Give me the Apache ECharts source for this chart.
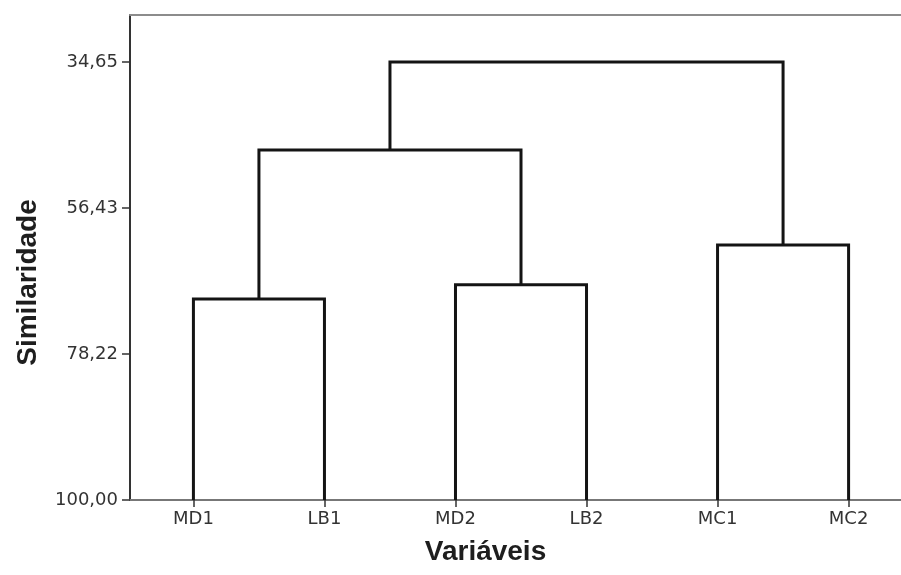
<!DOCTYPE html>
<html>
<head>
<meta charset="utf-8">
<title>Dendrograma</title>
<script src="https://cdn.jsdelivr.net/npm/echarts@6/dist/echarts.min.js"></script>
<style>
  html, body { margin: 0; padding: 0; background: #fff; }
  #chart { width: 901px; height: 575px; }
</style>
</head>
<body>
<div id="chart"></div>
<script>
// Leaves of the dendrogram, in plotting order
const leaves = ['MD1', 'LB1', 'MD2', 'LB2', 'MC1', 'MC2'];

// Agglomeration steps: each joins two nodes (leaf names or earlier step indices)
const mergeLeft  = ['MD1', 'MD2', 'MC1', 0, 3];
const mergeRight = ['LB1', 'LB2', 'MC2', 1, 2];
const mergeLevel = [70.0, 67.9, 61.95, 47.8, 34.65];

// Similarity tick values and their printed labels
const tickValues = [34.65, 56.43, 78.22, 100.0];
const tickLabels = ['34,65', '56,43', '78,22', '100,00'];

// Resolve a node reference into its x position and similarity level
const nodes = [];
function nodeOf(ref) {
  if (typeof ref === 'string') return { x: leaves.indexOf(ref), h: 100 };
  return nodes[ref];
}
const links = [];
for (let i = 0; i < mergeLevel.length; i++) {
  const a = nodeOf(mergeLeft[i]);
  const b = nodeOf(mergeRight[i]);
  links.push([a.x, a.h, b.x, b.h, mergeLevel[i]]);
  nodes.push({ x: (a.x + b.x) / 2, h: mergeLevel[i] });
}

const chart = echarts.init(document.getElementById('chart'), null, { renderer: 'canvas' });

const labelFont = { fontFamily: 'DejaVu Sans', fontSize: 18, color: '#333' };
const titleFont = { fontFamily: 'Liberation Sans', fontWeight: 'bold', fontSize: 28, color: '#1e1e1e' };

chart.setOption({
  animation: false,
  backgroundColor: '#ffffff',
  grid: { left: 130, right: 0, top: 15, bottom: 75 },
  xAxis: [{
    type: 'value',
    min: -0.484, max: 5.40,
    name: 'Variáveis',
    nameLocation: 'middle',
    nameGap: 38,
    nameTextStyle: { ...titleFont, padding: [0, 60, 0, 0] },
    splitLine: { show: false },
    axisLine: { show: true, onZero: false, lineStyle: { color: '#777', width: 2 } },
    axisTick: { show: true, length: 7, customValues: leaves.map((_, i) => i), lineStyle: { color: '#333', width: 1.5 } },
    axisLabel: {
      customValues: leaves.map((_, i) => i),
      formatter: v => leaves[Math.round(v)],
      margin: 10,
      ...labelFont
    }
  }, {
    // top frame line
    type: 'value',
    position: 'top',
    min: -0.484, max: 5.40,
    splitLine: { show: false },
    axisLine: { show: true, onZero: false, lineStyle: { color: '#8c8c8c', width: 2 } },
    axisTick: { show: false },
    axisLabel: { show: false }
  }],
  yAxis: {
    type: 'value',
    inverse: true,
    min: 27.64, max: 100,
    name: 'Similaridade',
    nameLocation: 'middle',
    nameGap: 88,
    nameTextStyle: { ...titleFont, padding: [0, 50, 0, 0] },
    splitLine: { show: false },
    axisLine: { show: true, onZero: false, lineStyle: { color: '#333', width: 2 } },
    axisTick: { show: true, length: 8, customValues: tickValues, lineStyle: { color: '#333', width: 1.5 } },
    axisLabel: {
      customValues: tickValues,
      formatter: v => tickLabels[tickValues.indexOf(v)] ?? v.toFixed(2).replace('.', ','),
      margin: 12,
      ...labelFont
    }
  },
  series: [{
    type: 'custom',
    xAxisIndex: 0,
    data: links,
    encode: { x: [0, 2], y: [1, 3, 4] },
    clip: false,
    renderItem: function (params, api) {
      const xl = api.value(0), hl = api.value(1);
      const xr = api.value(2), hr = api.value(3);
      const h = api.value(4);
      return {
        type: 'polyline',
        shape: {
          points: [
            api.coord([xl, hl]),
            api.coord([xl, h]),
            api.coord([xr, h]),
            api.coord([xr, hr])
          ]
        },
        style: { stroke: '#141414', lineWidth: 3, fill: null, lineJoin: 'miter' }
      };
    }
  }]
});
</script>
</body>
</html>
